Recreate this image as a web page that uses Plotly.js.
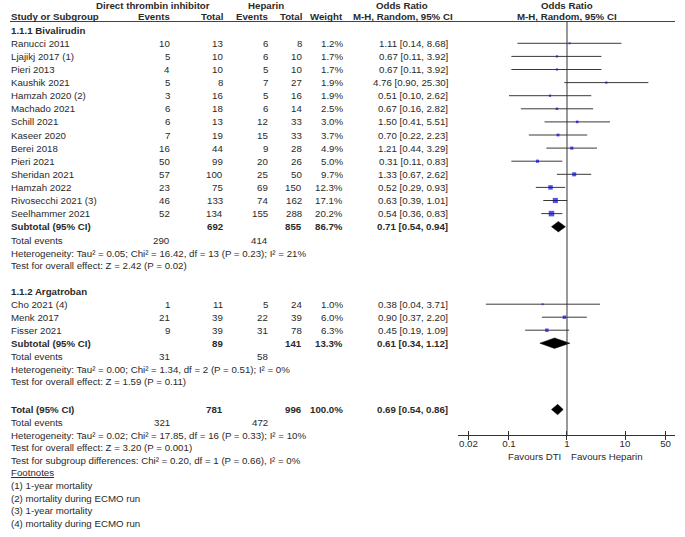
<!DOCTYPE html>
<html>
<head>
<meta charset="utf-8">
<script src="https://cdn.plot.ly/plotly-3.0.1.min.js"></script>
<style>html,body{margin:0;padding:0;background:#fff;}#chart{width:685px;height:537px;}</style>
</head>
<body>
<div id="chart"></div>
<script>
// ---------------- DATA ----------------
const studyNames = ['Ranucci 2011','Ljajikj 2017 (1)','Pieri 2013','Kaushik 2021','Hamzah 2020 (2)','Machado 2021','Schill 2021','Kaseer 2020','Berei 2018','Pieri 2021','Sheridan 2021','Hamzah 2022','Rivosecchi 2021 (3)','Seelhammer 2021',
                    'Cho 2021 (4)','Menk 2017','Fisser 2021'];
const studyGroup = [0,0,0,0,0,0,0,0,0,0,0,0,0,0, 1,1,1];
const dtiEvents = [10,5,4,5,3,6,6,7,16,50,57,23,46,52, 1,21,9];
const dtiTotal  = [13,10,10,8,16,18,13,19,44,99,100,75,133,134, 11,39,39];
const hepEvents = [6,6,5,7,5,6,12,15,9,20,25,69,74,155, 5,22,31];
const hepTotal  = [8,10,10,27,16,14,33,33,28,26,50,150,162,288, 24,39,78];
const weightPct = [1.2,1.7,1.7,1.9,1.9,2.5,3.0,3.7,4.9,5.0,9.7,12.3,17.1,20.2, 1.0,6.0,6.3];
const orEst = [1.11,0.67,0.67,4.76,0.51,0.67,1.50,0.70,1.21,0.31,1.33,0.52,0.63,0.54, 0.38,0.90,0.45];
const orLo  = [0.14,0.11,0.11,0.90,0.10,0.16,0.41,0.22,0.44,0.11,0.67,0.29,0.39,0.36, 0.04,0.37,0.19];
const orHi  = [8.68,3.92,3.92,25.30,2.62,2.82,5.51,2.23,3.29,0.83,2.62,0.93,1.01,0.83, 3.71,2.20,1.09];

const subgroupNames = ['1.1.1 Bivalirudin','1.1.2 Argatroban'];
const subDtiTotal = [692,89];
const subHepTotal = [855,141];
const subWeight = [86.7,13.3];
const subOr = [0.71,0.61];
const subLo = [0.54,0.34];
const subHi = [0.94,1.12];
const subDtiEvents = [290,31];
const subHepEvents = [414,58];
const subHetText = ['Heterogeneity: Tau² = 0.05; Chi² = 16.42, df = 13 (P = 0.23); I² = 21%',
                    'Heterogeneity: Tau² = 0.00; Chi² = 1.34, df = 2 (P = 0.51); I² = 0%'];
const subTestText = ['Test for overall effect: Z = 2.42 (P = 0.02)',
                     'Test for overall effect: Z = 1.59 (P = 0.11)'];

const totDtiTotal = 781, totHepTotal = 996, totWeight = 100.0;
const totOr = 0.69, totLo = 0.54, totHi = 0.86;
const totDtiEvents = 321, totHepEvents = 472;
const totHetText = 'Heterogeneity: Tau² = 0.02; Chi² = 17.85, df = 16 (P = 0.33); I² = 10%';
const totTestText = 'Test for overall effect: Z = 3.20 (P = 0.001)';
const subDiffText = 'Test for subgroup differences: Chi² = 0.20, df = 1 (P = 0.66), I² = 0%';
const footnotes = ['(1) 1-year mortality','(2) mortality during ECMO run','(3) 1-year mortality','(4) mortality during ECMO run'];

const tickVals = [0.02,0.1,1,10,50];
const tickText = ['0.02','0.1','1','10','50'];
const favoursLeft = 'Favours DTI', favoursRight = 'Favours Heparin';

// ---------------- LAYOUT HELPERS ----------------
const W = 685, H = 537;
const FONT = 'Liberation Sans Narrow, Arial Narrow, Liberation Sans, Arial, sans-serif';
const FS = 9.7;
const TXT = '#2a2a2a';
const ann = [];
function txt(x, y, s, anchor, bold) {
  ann.push({xref:'paper', yref:'y', x:x/W, y:y, text: bold ? '<b>'+s+'</b>' : s,
    xanchor:anchor, yanchor:'middle', showarrow:false, borderpad:0, borderwidth:0,
    font:{family:FONT, size:FS, color:TXT}});
}
const fmtOR = (e,l,h) => e.toFixed(2)+' ['+l.toFixed(2)+', '+h.toFixed(2)+']';
const fmtW = w => w.toFixed(1)+'%';

const COL = {name:11, dE:170, dT:223, hE:268, hT:302, w:343, or:448};
const STEP = 13.1;

// Row positions (pixels from top)
const groupHeaderY = [30.2, 291.2];
const rowY = [];
const subY = [];
[0,1].forEach(g => {
  let y = groupHeaderY[g];
  studyGroup.forEach((sg,i) => { if (sg === g) { y += (g===0?STEP:13.0); rowY[i] = y; } });
  subY[g] = y + (g===0?STEP:13.0);
});

// Header
txt(153, 5, 'Direct thrombin inhibitor', 'center', true);
txt(266, 5, 'Heparin', 'center', true);
txt(402, 5, 'Odds Ratio', 'center', true);
txt(567, 5, 'Odds Ratio', 'center', true);
txt(COL.name, 16, 'Study or Subgroup', 'left', true);
txt(COL.dE, 16, 'Events', 'right', true);
txt(COL.dT, 16, 'Total', 'right', true);
txt(COL.hE, 16, 'Events', 'right', true);
txt(COL.hT, 16, 'Total', 'right', true);
txt(COL.w, 16, 'Weight', 'right', true);
txt(403, 16, 'M-H, Random, 95% CI', 'center', true);
txt(567, 16, 'M-H, Random, 95% CI', 'center', true);

// Studies
studyNames.forEach((n,i) => {
  const y = rowY[i];
  txt(COL.name, y, n, 'left');
  txt(COL.dE, y, String(dtiEvents[i]), 'right');
  txt(COL.dT, y, String(dtiTotal[i]), 'right');
  txt(COL.hE, y, String(hepEvents[i]), 'right');
  txt(COL.hT, y, String(hepTotal[i]), 'right');
  txt(COL.w, y, fmtW(weightPct[i]), 'right');
  txt(COL.or, y, fmtOR(orEst[i], orLo[i], orHi[i]), 'right');
});

// Subgroups
subgroupNames.forEach((n,g) => {
  txt(COL.name, groupHeaderY[g], n, 'left', true);
  const y = subY[g];
  txt(COL.name, y, 'Subtotal (95% CI)', 'left', true);
  txt(COL.dT, y, String(subDtiTotal[g]), 'right', true);
  txt(COL.hT, y, String(subHepTotal[g]), 'right', true);
  txt(COL.w, y, fmtW(subWeight[g]), 'right', true);
  txt(COL.or, y, fmtOR(subOr[g], subLo[g], subHi[g]), 'right', true);
  txt(COL.name, y+13.6, 'Total events', 'left');
  txt(COL.dE, y+13.6, String(subDtiEvents[g]), 'right');
  txt(COL.hE, y+13.6, String(subHepEvents[g]), 'right');
  txt(COL.name, y+26.3, subHetText[g], 'left');
  txt(COL.name, y+38.6, subTestText[g], 'left');
});

// Overall
const totY = 409.5;
txt(COL.name, totY, 'Total (95% CI)', 'left', true);
txt(COL.dT, totY, String(totDtiTotal), 'right', true);
txt(COL.hT, totY, String(totHepTotal), 'right', true);
txt(COL.w, totY, fmtW(totWeight), 'right', true);
txt(COL.or, totY, fmtOR(totOr, totLo, totHi), 'right', true);
const ts = 12.6;
txt(COL.name, totY+13, 'Total events', 'left');
txt(COL.dE, totY+13, String(totDtiEvents), 'right');
txt(COL.hE, totY+13, String(totHepEvents), 'right');
txt(COL.name, totY+13+ts, totHetText, 'left');
txt(COL.name, totY+13+2*ts, totTestText, 'left');
txt(COL.name, totY+13+3*ts, subDiffText, 'left');
txt(COL.name, totY+13+4*ts, '<u>Footnotes</u>', 'left');
footnotes.forEach((f,k) => txt(COL.name, totY+13+(5+k)*ts, f, 'left'));

// Axis labels under plot
const AXY = 435;
txt(561, 456, favoursLeft, 'right');
txt(571, 456, favoursRight, 'left');

// ---------------- TRACES ----------------
const ciX = [], ciY = [];
studyNames.forEach((n,i) => { ciX.push(orLo[i], orHi[i], null); ciY.push(rowY[i], rowY[i], null); });
const traces = [];
traces.push({type:'scatter', mode:'lines', x:ciX, y:ciY, line:{color:'#3a3a3a', width:1}, hoverinfo:'skip'});
traces.push({type:'scatter', mode:'markers', x:orEst, y:rowY,
  marker:{symbol:'square', color:'#0a0ae0', size:weightPct.map(w => 0.8 + 1.05*Math.sqrt(w)), line:{width:0}}});
function diamond(e,l,h,y,half) {
  traces.push({type:'scatter', mode:'lines', x:[l,e,h,e,l], y:[y,y-half,y,y+half,y],
    fill:'toself', fillcolor:'#000', line:{color:'#000', width:0.5}, hoverinfo:'skip'});
}
subgroupNames.forEach((n,g) => diamond(subOr[g], subLo[g], subHi[g], subY[g], 5.2));
diamond(totOr, totLo, totHi, totY, 5.2);

const xr = [-1.879, 1.862];
const dom = [458/W, 675/W];
const pos = (H - AXY)/H;

const layout = {
  width:W, height:H, margin:{l:0,r:0,t:0,b:0},
  paper_bgcolor:'#fff', plot_bgcolor:'rgba(0,0,0,0)', showlegend:false,
  xaxis:{type:'log', range:xr, domain:dom, anchor:'free', position:pos,
    showline:true, linecolor:'#333', linewidth:1, ticks:'outside', ticklen:4, tickwidth:1, tickcolor:'#333',
    tickvals:tickVals, ticktext:tickText, showgrid:false, zeroline:false,
    tickfont:{family:FONT, size:FS, color:TXT}, ticklabelstandoff:-5, fixedrange:true},
  xaxis2:{type:'log', range:xr, domain:dom, anchor:'free', position:pos, overlaying:'x',
    showline:false, ticks:'inside', ticklen:4, tickwidth:1, tickcolor:'#333',
    tickvals:tickVals, showticklabels:false, showgrid:false, zeroline:false, fixedrange:true},
  yaxis:{range:[H,0], domain:[0,1], visible:false, fixedrange:true},
  annotations: ann,
  shapes:[
    {type:'line', xref:'paper', yref:'y', x0:10/W, x1:675/W, y0:21.5, y1:21.5, line:{color:'#444', width:1}},
    {type:'line', xref:'x', yref:'y', x0:1, x1:1, y0:21.5, y1:AXY, line:{color:'#333', width:1}}
  ]
};
// invisible point so the overlaid tick axis is drawn
traces.push({type:'scatter', mode:'markers', x:[1], y:[-50], xaxis:'x2', marker:{opacity:0}, hoverinfo:'skip'});

Plotly.newPlot('chart', traces, layout, {displayModeBar:false, staticPlot:true});
</script>
</body>
</html>
